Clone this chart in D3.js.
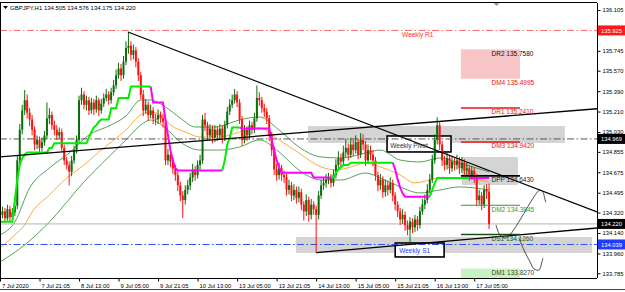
<!DOCTYPE html>
<html>
<head>
<meta charset="utf-8">
<script src="https://cdn.jsdelivr.net/npm/d3@7"></script>
<style>
  body { margin: 0; background: #fff; }
  svg { display: block; font-family: "Liberation Sans", Arial, sans-serif; }
</style>
</head>
<body>
<div id="chart"></div>
<script>
// GBPJPY H1 candles, one value per hourly bar (bar 0 = first bar on screen)
const symbol = "GBPJPY,H1";
const lastOHLC = [134.505, 134.576, 134.175, 134.220];
const firstOpen = 134.27;

const closes = [
  134.30,134.33,134.27,134.35,134.28,134.32,134.38,134.78,135.05,135.22,
  135.31,135.20,135.14,135.05,134.92,134.96,134.89,134.94,135.00,135.15,
  135.18,135.09,135.05,135.00,135.03,134.89,134.78,134.74,134.68,134.78,
  134.87,134.96,135.31,135.36,135.27,135.31,135.22,135.29,135.23,135.31,
  135.22,135.28,135.33,135.36,135.31,135.38,135.44,135.53,135.59,135.53,
  135.65,135.77,135.79,135.71,135.75,135.65,135.53,135.36,135.22,135.27,
  135.18,135.22,135.15,135.14,135.18,135.15,135.12,134.78,134.83,134.77,
  134.71,134.65,134.56,134.47,134.43,134.52,134.56,134.63,134.70,134.65,
  134.74,134.78,135.14,135.09,135.00,135.06,134.98,135.05,135.00,135.06,
  134.98,135.09,135.21,135.27,135.31,135.36,135.29,135.14,134.96,135.05,
  135.00,135.09,135.05,135.15,135.33,135.31,135.24,135.21,135.15,135.00,
  134.87,134.70,134.65,134.71,134.65,134.63,134.52,134.56,134.47,134.52,
  134.45,134.50,134.39,134.33,134.43,134.30,134.39,134.35,134.30,134.47,
  134.56,134.58,134.61,134.63,134.58,134.65,134.74,134.80,134.77,134.85,
  134.89,134.83,134.92,134.87,134.94,134.83,134.96,134.92,134.78,134.87,
  134.83,134.78,134.65,134.56,134.61,134.50,134.56,134.52,134.58,134.47,
  134.39,134.33,134.26,134.30,134.21,134.17,134.24,134.19,134.26,134.21,
  134.33,134.39,134.43,134.52,134.61,134.78,134.96,135.09,134.92,134.78,
  134.74,134.80,134.71,134.77,134.74,134.78,134.71,134.76,134.69,134.71,
  134.65,134.69,134.63,134.43,134.47,134.39,134.52,134.505,134.22
];
const highs = [
  134.34,134.37,134.36,134.39,134.38,134.36,134.45,134.82,135.10,135.27,
  135.40,135.36,135.24,135.18,135.08,135.00,134.99,134.98,135.04,135.29,
  135.24,135.21,135.13,135.09,135.07,135.06,134.92,134.81,134.77,134.82,
  134.91,135.00,135.35,135.42,135.39,135.35,135.34,135.33,135.32,135.35,
  135.33,135.32,135.37,135.41,135.39,135.42,135.49,135.58,135.64,135.63,
  135.70,135.83,135.91,135.83,135.80,135.78,135.68,135.56,135.40,135.32,
  135.30,135.27,135.25,135.19,135.23,135.21,135.19,135.14,134.88,134.86,
  134.80,134.74,134.68,134.59,134.51,134.56,134.61,134.67,134.75,134.73,
  134.78,134.83,135.18,135.20,135.12,135.10,135.09,135.09,135.08,135.10,
  135.09,135.13,135.25,135.32,135.36,135.41,135.39,135.32,135.17,135.09,
  135.08,135.13,135.12,135.20,135.44,135.38,135.34,135.28,135.24,135.18,
  135.03,134.90,134.75,134.76,134.74,134.69,134.66,134.61,134.59,134.57,
  134.55,134.55,134.53,134.42,134.48,134.46,134.44,134.42,134.38,134.51,
  134.61,134.63,134.66,134.67,134.66,134.70,134.79,134.86,134.84,134.91,
  134.97,134.93,134.98,134.96,135.00,134.97,135.02,135.01,134.95,134.92,
  134.91,134.87,134.81,134.68,134.66,134.64,134.61,134.60,134.63,134.61,
  134.50,134.42,134.36,134.35,134.33,134.25,134.28,134.27,134.30,134.29,
  134.37,134.44,134.48,134.57,134.66,134.83,135.01,135.16,135.12,134.95,
  134.82,134.85,134.83,134.82,134.80,134.83,134.81,134.81,134.79,134.76,
  134.74,134.73,134.72,134.66,134.52,134.50,134.56,134.57,134.576
];
const lows = [
  134.24,134.27,134.23,134.25,134.24,134.25,134.29,134.35,134.74,135.01,
  135.18,135.15,135.08,135.00,134.87,134.88,134.85,134.86,134.91,134.97,
  135.10,135.05,135.00,134.96,134.97,134.86,134.74,134.70,134.56,134.64,
  134.75,134.84,134.93,135.27,135.23,135.22,135.18,135.19,135.18,135.20,
  135.17,135.19,135.25,135.30,135.27,135.28,135.35,135.41,135.50,135.48,
  135.50,135.62,135.72,135.66,135.67,135.60,135.48,135.32,135.17,135.19,
  135.13,135.15,135.10,135.09,135.10,135.11,135.07,134.74,134.74,134.72,
  134.66,134.60,134.51,134.42,134.27,134.39,134.48,134.52,134.59,134.60,
  134.62,134.70,134.75,135.04,134.95,134.96,134.93,134.94,134.95,134.96,
  134.93,134.95,135.06,135.18,135.24,135.28,135.25,135.10,134.91,134.93,
  134.95,134.97,135.01,135.02,135.12,135.26,135.20,135.16,135.10,134.95,
  134.82,134.65,134.60,134.61,134.60,134.58,134.47,134.48,134.42,134.43,
  134.40,134.41,134.34,134.25,134.29,134.24,134.26,134.30,133.97,134.26,
  134.44,134.52,134.54,134.57,134.54,134.55,134.62,134.71,134.72,134.74,
  134.81,134.78,134.80,134.82,134.84,134.79,134.80,134.87,134.73,134.75,
  134.78,134.73,134.60,134.51,134.52,134.45,134.46,134.47,134.49,134.42,
  134.34,134.28,134.21,134.22,134.16,134.12,134.05,134.14,134.15,134.16,
  134.18,134.30,134.35,134.40,134.49,134.58,134.75,134.92,134.87,134.73,
  134.69,134.70,134.66,134.68,134.69,134.70,134.66,134.67,134.64,134.65,
  134.60,134.61,134.58,134.38,134.39,134.34,134.36,134.44,134.175
];

// two-colour step indicator (lime = up, magenta = down)
const stepLine = [
  134.24,134.24,134.24,134.24,134.24,134.24,134.43,134.61,134.74,134.80,
  134.83,134.85,134.85,134.85,134.85,134.85,134.85,134.85,134.85,134.85,
  134.89,134.89,134.93,134.93,134.93,134.93,134.93,134.93,134.93,134.93,
  134.93,134.93,134.93,134.93,134.93,134.93,134.98,135.03,135.07,135.09,
  135.12,135.14,135.14,135.14,135.14,135.24,135.24,135.24,135.33,135.33,
  135.33,135.33,135.33,135.43,135.43,135.43,135.43,135.43,135.43,135.43,
  135.43,135.43,135.29,135.29,135.29,135.29,135.29,135.14,135.00,134.87,
  134.78,134.71,134.69,134.69,134.69,134.69,134.69,134.69,134.69,134.69,
  134.69,134.69,134.69,134.69,134.69,134.69,134.69,134.69,134.69,134.69,
  134.69,134.78,134.92,134.98,135.07,135.07,135.07,135.07,135.06,135.06,
  135.06,135.06,135.06,135.06,135.06,135.06,135.06,135.06,135.06,135.06,
  134.96,134.87,134.78,134.72,134.67,134.67,134.67,134.67,134.67,134.67,
  134.67,134.67,134.67,134.67,134.67,134.67,134.67,134.63,134.63,134.63,
  134.63,134.63,134.63,134.63,134.63,134.63,134.67,134.70,134.72,134.74,
  134.74,134.74,134.76,134.76,134.76,134.76,134.76,134.76,134.76,134.76,
  134.76,134.76,134.76,134.76,134.76,134.76,134.76,134.76,134.76,134.76,
  134.70,134.61,134.54,134.49,134.46,134.46,134.46,134.46,134.46,134.46,
  134.46,134.46,134.46,134.46,134.46,134.52,134.58,134.625,134.625,134.625,
  134.625,134.625,134.625,134.625,134.625,134.625,134.625,134.625,134.625,134.625,
  134.625,134.625,134.625,134.625,134.625,134.625,134.625,134.625,134.625
];
const trendStart = [0, 62, 91, 98, 135, 160, 175, 191];
const trendUp = [true, false, true, false, true, false, true, false];

// moving average (orange) and its two green bands, read at sample bars
const maBars = [0,6,10,13,20,27,34,40,51,57,61,65,69,75,81,89,97,105,113,121,130,136,142,148,154,162,168,178,186,198];
const maVals = [134.008,134.123,134.211,134.325,134.475,134.625,134.739,134.854,135.048,135.180,135.206,135.180,135.092,135.030,134.986,134.986,135.030,135.065,134.960,134.845,134.722,134.695,134.722,134.757,134.722,134.651,134.581,134.625,134.625,134.590];
const upperBars = [0,6,12,20,28,36,45,51,57,61,67,73,79,87,93,97,105,113,121,130,138,148,154,162,170,178,186,198];
const upperVals = [134.123,134.237,134.537,134.713,134.845,135.004,135.092,135.171,135.312,135.312,135.250,135.153,135.074,135.074,135.109,135.136,135.162,135.048,134.898,134.810,134.801,134.845,134.871,134.783,134.766,134.801,134.757,134.678];
const lowerBars = [0,10,20,34,51,57,61,67,73,81,89,97,105,113,121,130,138,148,154,162,170,178,186,198];
const lowerVals = [133.885,134.035,134.237,134.590,134.960,135.092,135.136,135.065,134.942,134.871,134.871,134.898,134.960,134.854,134.695,134.607,134.607,134.669,134.625,134.546,134.493,134.519,134.546,134.519];

// weekly pivot levels
const weeklyNames = ["Weekly R1", "Weekly Pivot", "Weekly S1"];
const weeklyVals = [135.925, 134.969, 134.039];

// daily levels
const dailyNames = ["DR2", "DM4", "DR1", "DM3", "DPP", "DM2", "DS1", "DM1"];
const dailyVals = [135.7580, 135.4995, 135.2410, 134.9420, 134.6430, 134.3845, 134.1260, 133.8270];

// trend lines [bar, price] -> [bar, price]
const trendLines = [
  [[51.8, 135.911], [241.7, 134.325]],
  [[0, 134.810], [241.7, 135.235]],
  [[128, 133.967], [241.7, 134.184]]
];

// hand drawn arrows
const arrowUp = [[200.8,134.211],[202.4,134.123],[204.9,134.096],[218.6,134.519],[219.8,134.500],[220.6,134.440],[221.0,134.410]];
const arrowDown = [[210.1,134.096],[212.1,133.991],[214.6,133.885],[216.2,133.823],[218.2,133.814],[219.4,133.885],[219.8,133.920]];

// axes
const timeTicks = [0,16,32,48,64,80,96,112,128,144,160,176,192];
const timeLabels = ["7 Jul 2020","7 Jul 21:05","8 Jul 13:00","9 Jul 05:00","9 Jul 21:05","10 Jul 13:00","13 Jul 05:00","13 Jul 21:05","14 Jul 13:00","15 Jul 05:00","15 Jul 21:05","16 Jul 13:00","17 Jul 05:00"];
const priceTicks = [136.105,135.925,135.745,135.570,135.390,135.210,135.030,134.855,134.675,134.495,134.320,134.140,133.960,133.785];

// ---------------- drawing ----------------
const width = 625, height = 292;
const plot = {left: 0, right: 597, top: 3, bottom: 278};

const svg = d3.select('#chart')
    .append('svg')
    .attr('width', width)
    .attr('height', height)
    .style('background', '#fff');

const x = d3.scaleLinear().domain([0, 241.7]).range([plot.left, plot.right]);
const y = d3.scaleLinear().domain([133.785, 136.105]).range([273.3, 10]);

svg.append('clipPath').attr('id', 'clip')
  .append('rect')
    .attr('x', plot.left).attr('y', plot.top)
    .attr('width', plot.right - plot.left).attr('height', plot.bottom - plot.top);

const g = svg.append('g').attr('clip-path', 'url(#clip)');

function zone(b0, b1, p0, p1, fill) {
    g.append('rect')
        .attr('x', x(b0)).attr('width', x(b1) - x(b0))
        .attr('y', y(p0)).attr('height', y(p1) - y(p0))
        .attr('fill', fill);
}

// zones (background)
zone(124.7, 228.7, 135.083, 134.933, '#d4d4d4');
zone(119.8, 239.7, 134.105, 133.964, '#d4d4d4');
zone(187, 209.7, 134.810, 134.563, '#d4d4d4');
zone(186.6, 210.5, dailyVals[0], dailyVals[1], '#f7c5c5');
zone(186.6, 210.5, dailyVals[7], 133.70, '#c9f2c4');

// weekly label boxes
const boxes = [
  {b0: 156.7, b1: 182.6, p0: 134.995, p1: 134.854},
  {b0: 160.0, b1: 179.8, p0: 134.052, p1: 133.929}
];
boxes.forEach(b => {
    g.append('rect')
        .attr('x', x(b.b0)).attr('width', x(b.b1) - x(b.b0))
        .attr('y', y(b.p0)).attr('height', y(b.p1) - y(b.p0))
        .attr('fill', '#fff').attr('stroke', '#000').attr('stroke-width', 1.6);
});

// bands and moving average
const curve = d3.line().x(d => x(d[0])).y(d => y(d[1])).curve(d3.curveMonotoneX);
g.append('path').attr('d', curve(upperBars.map((b, i) => [b, upperVals[i]])))
    .attr('fill', 'none').attr('stroke', '#2c8a2c').attr('stroke-width', 0.8);
g.append('path').attr('d', curve(lowerBars.map((b, i) => [b, lowerVals[i]])))
    .attr('fill', 'none').attr('stroke', '#2c8a2c').attr('stroke-width', 0.8);
g.append('path').attr('d', curve(maBars.map((b, i) => [b, maVals[i]])))
    .attr('fill', 'none').attr('stroke', '#ff9f2a').attr('stroke-width', 0.9);

// weekly levels (dash-dot)
const weeklyColors = ['#ff6a6a', '#555', '#2d4cff'];
weeklyVals.forEach((v, i) => {
    g.append('line')
        .attr('x1', plot.left).attr('x2', plot.right)
        .attr('y1', y(v)).attr('y2', y(v))
        .attr('stroke', weeklyColors[i]).attr('stroke-width', 1)
        .attr('stroke-dasharray', '7,2.5,1.5,2.5');
});

// bid line
g.append('line')
    .attr('x1', plot.left).attr('x2', plot.right)
    .attr('y1', y(lastOHLC[3])).attr('y2', y(lastOHLC[3]))
    .attr('stroke', '#b4b4b4').attr('stroke-width', 1);

// candles
const bars = closes.map((c, i) => ({
    i, o: i === 0 ? firstOpen : closes[i - 1], h: highs[i], l: lows[i], c
}));
const candleColor = d => d.c >= d.o ? '#0a6e0a' : '#ff1010';

g.append('g').selectAll('line')
    .data(bars).enter().append('line')
    .attr('x1', d => x(d.i)).attr('x2', d => x(d.i))
    .attr('y1', d => y(d.h)).attr('y2', d => y(d.l))
    .attr('stroke', candleColor).attr('stroke-width', 1);

g.append('g').selectAll('rect')
    .data(bars).enter().append('rect')
    .attr('x', d => x(d.i) - 1)
    .attr('width', 2)
    .attr('y', d => y(Math.max(d.o, d.c)))
    .attr('height', d => Math.max(0.8, Math.abs(y(d.o) - y(d.c))))
    .attr('fill', candleColor);

// step indicator
const straight = d3.line().x(d => x(d[0])).y(d => y(d[1]));
trendStart.forEach((s, k) => {
    const e = k < trendStart.length - 1 ? trendStart[k + 1] - 1 : stepLine.length - 1;
    const pts = [];
    for (let i = Math.max(0, s - 1); i <= e; i++) pts.push([i, stepLine[i]]);
    g.append('path').attr('d', straight(pts))
        .attr('fill', 'none')
        .attr('stroke', trendUp[k] ? '#00ee00' : '#ff00ff')
        .attr('stroke-width', 2);
});

// trend lines
trendLines.forEach(tl => {
    g.append('line')
        .attr('x1', x(tl[0][0])).attr('y1', y(tl[0][1]))
        .attr('x2', x(tl[1][0])).attr('y2', y(tl[1][1]))
        .attr('stroke', '#000').attr('stroke-width', 1.3);
});

// daily level lines
const dailyLine = {DR1: ['#f01010', 1.6], DM3: ['#f01010', 1.3], DPP: ['#000', 1.6], DM2: ['#2f9a2f', 1.2], DS1: ['#1c4f1c', 1.5]};
dailyNames.forEach((n, i) => {
    if (!dailyLine[n]) return;
    g.append('line')
        .attr('x1', x(186.6)).attr('x2', x(210.5))
        .attr('y1', y(dailyVals[i])).attr('y2', y(dailyVals[i]))
        .attr('stroke', dailyLine[n][0]).attr('stroke-width', dailyLine[n][1]);
});

// arrows
[arrowUp, arrowDown].forEach(a => {
    g.append('path').attr('d', d3.line().x(d => x(d[0])).y(d => y(d[1])).curve(d3.curveCatmullRom)(a))
        .attr('fill', 'none').attr('stroke', '#222').attr('stroke-width', 0.8);
});

// daily labels
const dailyText = {DR2: '#111', DM4: '#f01010', DR1: '#f01010', DM3: '#f01010', DPP: '#222', DM2: '#2f9a2f', DS1: '#1c5a1c', DM1: '#334433'};
g.append('g').selectAll('text')
    .data(dailyNames).enter().append('text')
    .attr('x', x(199))
    .attr('y', (d, i) => y(dailyVals[i]) + 6.3)
    .attr('font-size', 6.5)
    .attr('fill', d => dailyText[d])
    .text((d, i) => d + ' ' + dailyVals[i].toFixed(4));

// weekly labels
g.append('text').attr('x', x(162.8)).attr('y', y(weeklyVals[0]) + 7)
    .attr('font-size', 6.5).attr('fill', '#ff3030').text(weeklyNames[0]);
g.append('text').attr('x', x(158)).attr('y', y(134.89))
    .attr('font-size', 6.5).attr('fill', '#333').text(weeklyNames[1]);
g.append('text').attr('x', x(161.6)).attr('y', y(133.965))
    .attr('font-size', 6.5).attr('fill', '#1f3cff').text(weeklyNames[2]);

// frame
svg.append('line').attr('x1', 0.5).attr('x2', 0.5).attr('y1', plot.top).attr('y2', plot.bottom)
    .attr('stroke', '#000');
svg.append('line').attr('x1', 0).attr('x2', plot.right).attr('y1', plot.top - 0.5).attr('y2', plot.top - 0.5)
    .attr('stroke', '#000');
svg.append('path')
    .attr('d', `M${x(201)-3},${plot.top} L${x(201)+3},${plot.top} L${x(201)},${plot.top+3}Z`)
    .attr('fill', '#999');

// title
svg.append('path').attr('d', 'M3,6 L8,6 L5.5,9Z').attr('fill', '#000');
svg.append('text').attr('x', 10).attr('y', 10)
    .attr('font-size', 6)
    .text(symbol + ' ' + lastOHLC.map(v => v.toFixed(3)).join(' '));

// right price axis
const yAxis = svg.append('g')
    .attr('transform', `translate(${plot.right + 0.5},0)`)
    .call(d3.axisRight(y).tickValues(priceTicks).tickSize(3).tickFormat(d3.format('.3f')));
yAxis.select('.domain').attr('d', `M0,${plot.top}V${plot.bottom}`).attr('stroke', '#000');
yAxis.selectAll('text').attr('font-size', 5.8).attr('x', 5).attr('fill', '#000')
    .attr('font-family', '"Liberation Sans", Arial, sans-serif');

// price markers on axis
const markVals = [weeklyVals[0], weeklyVals[1], lastOHLC[3], weeklyVals[2]];
const markColors = ['#ff1a1a', '#000', '#000', '#1f3cff'];
markVals.forEach((v, i) => {
    svg.append('rect').attr('x', plot.right + 1).attr('y', y(v) - 5)
        .attr('width', width - plot.right - 1).attr('height', 10).attr('fill', markColors[i]);
    svg.append('text').attr('x', plot.right + 4).attr('y', y(v) + 2.2)
        .attr('font-size', 5.8).attr('fill', '#fff').text(v.toFixed(3));
});

// bottom time axis
const xAxis = svg.append('g')
    .attr('transform', `translate(0,${plot.bottom + 0.5})`)
    .call(d3.axisBottom(x).tickValues(timeTicks).tickSize(3).tickFormat((d, i) => timeLabels[i]));
xAxis.select('.domain').attr('d', `M0,0H${plot.right}`).attr('stroke', '#000');
xAxis.selectAll('text').attr('font-size', 5.8).attr('text-anchor', 'start')
    .attr('dx', 1.5).attr('y', 5).attr('fill', '#000')
    .attr('font-family', '"Liberation Sans", Arial, sans-serif');

// window bottom edge
svg.append('line').attr('x1', 0).attr('x2', width).attr('y1', 289.5).attr('y2', 289.5)
    .attr('stroke', '#444');
</script>
</body>
</html>
